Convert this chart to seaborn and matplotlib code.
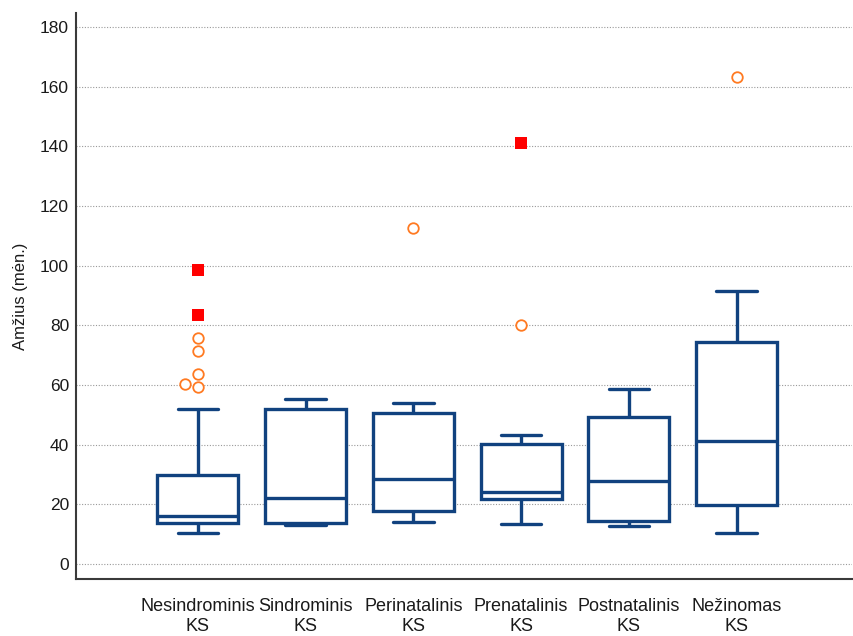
import numpy as np
import pandas as pd
import matplotlib
matplotlib.use("Agg")
import matplotlib.pyplot as plt
from matplotlib.ticker import MultipleLocator
import seaborn as sns

categories = ["Nesindrominis\nKS", "Sindrominis\nKS", "Perinatalinis\nKS",
              "Prenatalinis\nKS", "Postnatalinis\nKS", "Nežinomas\nKS"]
# five-number summaries: lower whisker, Q1, median, Q3, upper whisker
whisker_low = [10.3, 13.2, 14.1, 13.6, 12.7, 10.3]
q1          = [13.9, 13.8, 17.8, 21.7, 14.4, 19.8]
median      = [16.2, 22.0, 28.6, 24.1, 27.8, 41.2]
q3          = [29.8, 51.9, 50.8, 40.1, 49.4, 74.3]
whisker_high = [51.9, 55.2, 53.9, 43.1, 58.6, 91.6]
# outliers (open circles) and far-out values (red squares)
outliers = {
    "Nesindrominis\nKS": [59.5, 60.3, 63.7, 71.4, 75.7],
    "Perinatalinis\nKS": [112.6],
    "Prenatalinis\nKS": [80.1],
    "Nežinomas\nKS": [163.3],
}
far_out = {
    "Nesindrominis\nKS": [83.4, 98.7],
    "Prenatalinis\nKS": [141.1],
}
y_label = "Amžius (mėn.)"

box_rows = []
for i, c in enumerate(categories):
    for v in (whisker_low[i], q1[i], median[i], q3[i], whisker_high[i]):
        box_rows.append((c, v))
box_df = pd.DataFrame(box_rows, columns=["grupe", "amzius"])
out_df = pd.DataFrame([(c, v) for c, vs in outliers.items() for v in vs],
                      columns=["grupe", "amzius"])
far_df = pd.DataFrame([(c, v) for c, vs in far_out.items() for v in vs],
                      columns=["grupe", "amzius"])

sns.set_style("white")
plt.rcParams["font.family"] = ["Liberation Sans", "DejaVu Sans"]

BLUE = "#11427f"
ORANGE = "#ff7a22"
AXC = "#3a3a3a"
TXT = "#1a1a1a"

fig = plt.figure(figsize=(8.54, 6.36), dpi=100)
ax = fig.add_axes([76 / 854, 1 - 579 / 636, 776 / 854, 566 / 636])

ax.yaxis.grid(True, color="#9a9a9a", linestyle=(0, (1, 1.5)), linewidth=0.8)
ax.set_axisbelow(True)

sns.boxplot(data=box_df, x="grupe", y="amzius", order=categories, ax=ax,
            whis=np.inf, showfliers=False, width=0.75, fill=True,
            color="white", linecolor=BLUE, linewidth=2.4, zorder=3)
sns.swarmplot(data=out_df, x="grupe", y="amzius", order=categories, ax=ax,
              marker="o", size=7.6, color="white", edgecolor=ORANGE,
              linewidth=1.3, zorder=4)
sns.swarmplot(data=far_df, x="grupe", y="amzius", order=categories, ax=ax,
              marker="s", size=8.5, color="#ff0000", edgecolor="#ff0000",
              linewidth=0, zorder=4)

ax.set_xlim(-1.13, 6.07)
ax.set_ylim(-5.0, 184.7)
ax.yaxis.set_major_locator(MultipleLocator(20))
ax.yaxis.set_minor_locator(MultipleLocator(10))
ax.tick_params(axis="y", which="major", direction="in", length=10, width=1.5,
               color=AXC, labelsize=12.5, pad=5, labelcolor=TXT)
ax.tick_params(axis="y", which="minor", direction="in", length=5, width=1.5,
               color=AXC)
ax.tick_params(axis="x", which="major", direction="in", length=8.5, width=1.5,
               color=AXC, labelsize=13, pad=14, labelcolor=TXT)
ax.set_xlabel("")
ax.set_ylabel(y_label, fontsize=12, color=TXT, labelpad=9)

for s in ("top", "right"):
    ax.spines[s].set_visible(False)
for s in ("left", "bottom"):
    ax.spines[s].set_color(AXC)
    ax.spines[s].set_linewidth(1.5)

fig.savefig("out.png", dpi=100)
